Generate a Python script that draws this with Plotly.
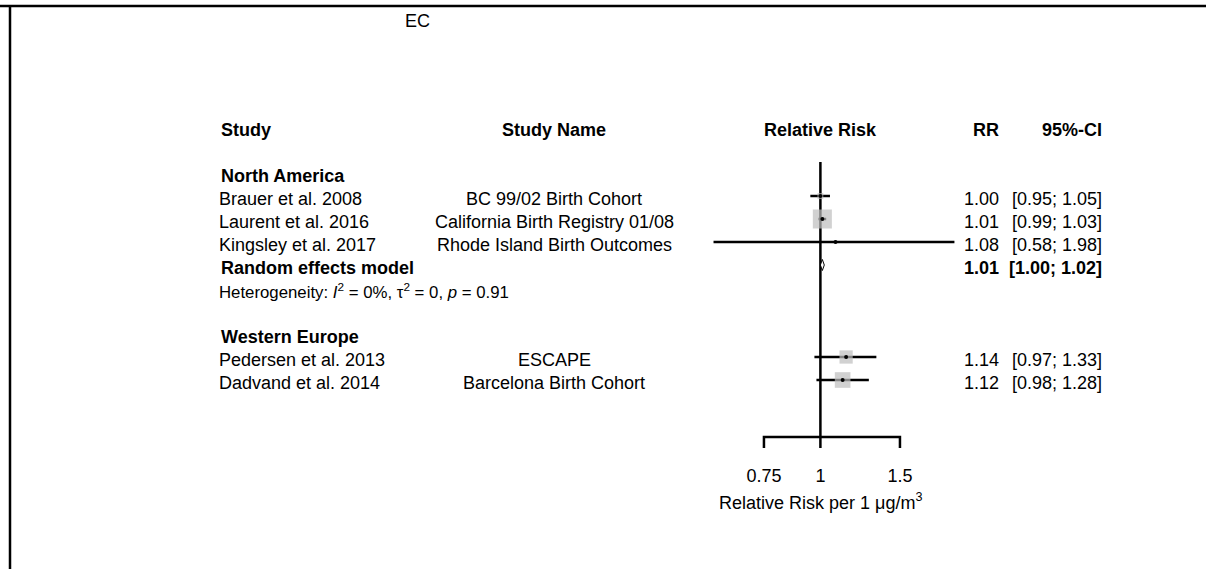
import math
import plotly.graph_objects as go

# ---------------- data ----------------
chart_title = "EC"
col_study = "Study"
col_name = "Study Name"
col_plot = "Relative Risk"
col_rr = "RR"
col_ci = "95%-CI"

group_labels = ["North America", "Western Europe"]
study_labels = ["Brauer et al. 2008", "Laurent et al. 2016", "Kingsley et al. 2017",
                "Pedersen et al. 2013", "Dadvand et al. 2014"]
study_names = ["BC 99/02 Birth Cohort", "California Birth Registry 01/08",
               "Rhode Island Birth Outcomes", "ESCAPE", "Barcelona Birth Cohort"]
study_group = [0, 0, 0, 1, 1]
rr = [1.00, 1.01, 1.08, 1.14, 1.12]
ci_lo = [0.95, 0.99, 0.58, 0.97, 0.98]
ci_hi = [1.05, 1.03, 1.98, 1.33, 1.28]
weights = [8.0, 86.3, 0.1, 41.7, 58.3]

re_label = "Random effects model"
re_rr, re_lo, re_hi = 1.01, 1.00, 1.02
het_i2, het_tau2, het_p = 0, 0, 0.91

axis_ticks = [0.75, 1, 1.5]
axis_ticktext = ["0.75", "1", "1.5"]
axis_title = "Relative Risk per 1 μg/m<sup>3</sup>"
ref_value = 1

# ---------------- layout geometry ----------------
W, H = 1206, 569
FONT = "Liberation Sans, Arial, Helvetica, sans-serif"
FS = 18
ROW0_PX = 196.0      # pixel of row 0
ROW_PX = 23.0        # pixels per row
X1_PX = 820.4        # pixel of x = 1
PX_PER_DEC = 451.8   # pixels per log10 unit

y_range = [(H - ROW0_PX) / ROW_PX, -ROW0_PX / ROW_PX]
x_range = [-X1_PX / PX_PER_DEC, (W - X1_PX) / PX_PER_DEC]


def xp(px):
    return px / W


def yp_row(px):
    return (px - ROW0_PX) / ROW_PX


# row assignment
header_row = -3
group_rows, study_rows = [], []
cur = -1
re_row = het_row = None
for g in range(len(group_labels)):
    group_rows.append(cur)
    cur += 1
    for i, sg in enumerate(study_group):
        if sg == g:
            study_rows.append(cur)
            cur += 1
    if g == 0:
        re_row = cur
        het_row = cur + 1
        cur += 3

axis_row = yp_row(437)
tick_end_row = yp_row(448)
ticklab_row = yp_row(477)
ref_top_row = yp_row(162)
TOFF = 0.12   # text vertical offset (rows)

fig = go.Figure()

# reference line
fig.add_trace(go.Scatter(x=[ref_value, ref_value], y=[ref_top_row, axis_row], mode="lines",
                         line=dict(color="black", width=2.5), hoverinfo="skip", showlegend=False))

# CI lines
cx, cy = [], []
for lo, hi, r in zip(ci_lo, ci_hi, study_rows):
    cx += [lo, hi, None]
    cy += [r, r, None]
fig.add_trace(go.Scatter(x=cx, y=cy, mode="lines", line=dict(color="black", width=2.5),
                         hoverinfo="skip", showlegend=False))

# weight squares
fig.add_trace(go.Scatter(x=rr, y=study_rows, mode="markers",
                         marker=dict(symbol="square", color="#BEBEBE",
                                     size=[2.05 * math.sqrt(w) for w in weights],
                                     line=dict(width=0)),
                         hoverinfo="skip", showlegend=False))
# estimate dots
fig.add_trace(go.Scatter(x=rr, y=study_rows, mode="markers",
                         marker=dict(symbol="circle", color="black", size=4),
                         hoverinfo="skip", showlegend=False))

# diamond
dh = 0.24
fig.add_trace(go.Scatter(x=[re_lo, re_rr, re_hi, re_rr, re_lo],
                         y=[re_row, re_row - dh, re_row, re_row + dh, re_row],
                         mode="lines", fill="toself", fillcolor="white",
                         line=dict(color="black", width=1), hoverinfo="skip", showlegend=False))

# bottom axis: line + ticks
ax_x = [axis_ticks[0], axis_ticks[0], axis_ticks[-1], axis_ticks[-1], None]
ax_y = [tick_end_row, axis_row, axis_row, tick_end_row, None]
for t in axis_ticks[1:-1]:
    ax_x += [t, t, None]
    ax_y += [axis_row, tick_end_row, None]
fig.add_trace(go.Scatter(x=ax_x, y=ax_y, mode="lines",
                         line=dict(color="black", width=2.5),
                         hoverinfo="skip", showlegend=False))
# tick labels
fig.add_trace(go.Scatter(x=axis_ticks, y=[ticklab_row] * len(axis_ticks), mode="text",
                         text=axis_ticktext, textposition="middle center",
                         textfont=dict(family=FONT, size=FS, color="black"),
                         hoverinfo="skip", showlegend=False))

ann = []


def txt(text, x, y, xanchor="left", xref="paper", yref="y", size=FS):
    ann.append(dict(text=text, x=x, y=y, xref=xref, yref=yref, xanchor=xanchor,
                    yanchor="middle", showarrow=False,
                    font=dict(family=FONT, size=size, color="black")))


STUDY_X = xp(217)
BOLD_X = xp(219)
NAME_X = xp(554)
RR_X = xp(1001)
CI_X = xp(1104)

# title
ann.append(dict(text=chart_title, x=xp(417), y=1 - 21 / H, xref="paper", yref="paper",
                xanchor="center", yanchor="middle", showarrow=False,
                font=dict(family=FONT, size=FS, color="black")))

# headers
txt("<b>%s</b>" % col_study, BOLD_X, header_row + TOFF)
txt("<b>%s</b>" % col_name, NAME_X, header_row + TOFF, "center")
txt("<b>%s</b>" % col_plot, 0, header_row + TOFF, "center", xref="x")
txt("<b>%s</b>" % col_rr, RR_X, header_row + TOFF, "right")
txt("<b>%s</b>" % col_ci, CI_X, header_row + TOFF, "right")

for g, r in zip(group_labels, group_rows):
    txt("<b>%s</b>" % g, BOLD_X, r + TOFF)

for lab, nm, v, lo, hi, r in zip(study_labels, study_names, rr, ci_lo, ci_hi, study_rows):
    txt(lab, STUDY_X, r + TOFF)
    txt(nm, NAME_X, r + TOFF, "center")
    txt("%.2f" % v, RR_X, r + TOFF, "right")
    txt("[%.2f; %.2f]" % (lo, hi), CI_X, r + TOFF, "right")

txt("<b>%s</b>" % re_label, BOLD_X, re_row + TOFF)
txt("<b>%.2f</b>" % re_rr, RR_X, re_row + TOFF, "right")
txt("<b>[%.2f; %.2f]</b>" % (re_lo, re_hi), CI_X, re_row + TOFF, "right")

txt("Heterogeneity: <i>I</i><sup>2</sup> = %d%%, τ<sup>2</sup> = %g, <i>p</i> = %.2f"
    % (het_i2, het_tau2, het_p), STUDY_X, het_row + TOFF, size=16.8)

# axis title
txt(axis_title, 0, yp_row(500) + 0.05, "center", xref="x")

fig.update_layout(
    width=W, height=H, margin=dict(l=0, r=0, t=0, b=0, autoexpand=False),
    paper_bgcolor="white", plot_bgcolor="white",
    showlegend=False,
    xaxis=dict(type="log", range=x_range, visible=False, fixedrange=True),
    yaxis=dict(range=y_range, visible=False, fixedrange=True),
    annotations=ann,
    shapes=[
        dict(type="line", xref="paper", yref="paper", x0=0, x1=1, y0=1 - 6 / H, y1=1 - 6 / H,
             line=dict(color="black", width=2.5)),
        dict(type="line", xref="paper", yref="paper", x0=xp(10), x1=xp(10), y0=0, y1=1 - 6 / H,
             line=dict(color="black", width=2.5)),
    ],
)

fig.write_html("out.html")
